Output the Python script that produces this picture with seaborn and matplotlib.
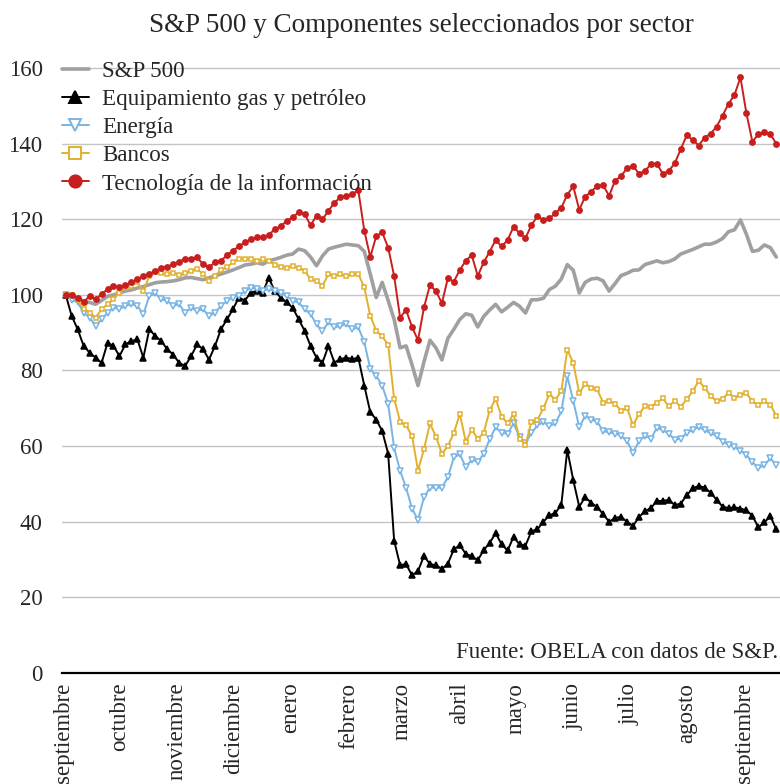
import numpy as np
import pandas as pd
import seaborn as sns
import matplotlib.pyplot as plt
from matplotlib.lines import Line2D

# eje temporal (sep 2019 - sep 2020) y etiquetas de mes
fechas = pd.date_range("2019-09-02", "2020-09-18", periods=120)
inicio_mes = pd.date_range("2019-09-01", "2020-09-01", freq="MS")
meses = ["septiembre", "octubre", "noviembre", "diciembre", "enero", "febrero",
         "marzo", "abril", "mayo", "junio", "julio", "agosto", "septiembre"]

sp500 = [100, 99.5, 99, 98.4, 98, 97.5, 98.5, 99.6, 100, 100.5,
         101, 101.3, 101.8, 102.2, 102.7, 103.2, 103.4, 103.5, 103.7, 104,
         104.5, 104.6, 104.3, 104, 104.5, 105, 105.5, 106, 106.6, 107.2,
         107.9, 108.1, 108.5, 108.1, 109, 109.4, 109.9, 110.5, 110.8, 112.1,
         111.7, 110, 107.7, 110.3, 112.1, 112.6, 113, 113.4, 113.2, 113,
         111.5, 105.5, 99.3, 103.3, 98.5, 93.5, 86, 86.5, 81.5, 76,
         82.3, 88, 86, 82.8, 88.5, 90.9, 93.5, 95, 94.6, 91.5,
         94.3, 96, 97.5, 95.5, 96.7, 98, 97, 95.2, 98.7, 98.7,
         99.1, 101.4, 102.3, 104.2, 108, 106.5, 100.5, 103.3, 104.2, 104.4,
         103.7, 101, 103, 105.1, 105.7, 106.5, 106.6, 108, 108.5, 109,
         108.5, 108.8, 109.5, 110.8, 111.4, 112, 112.7, 113.4, 113.4, 114,
         114.9, 116.7, 117.2, 119.8, 116, 111.5, 111.8, 113.2, 112.5, 110]

equipamiento = [100, 94.4, 90.9, 86.5, 84.7, 83.4, 82, 87.3, 86.5, 83.8,
                86.9, 87.8, 88.2, 83.4, 90.9, 89.1, 87.8, 85.6, 84.2, 82,
                81.2, 83.8, 86.9, 85.6, 82.9, 86.5, 90.9, 93.5, 96.2, 99.3,
                98.5, 100.6, 101, 100.6, 104.5, 101, 99.3, 98, 96.6, 93.6,
                90.5, 86.5, 83.4, 82.1, 86.5, 82.1, 83, 83.4, 83, 83.4,
                76, 69, 67, 64, 58, 35, 28.5, 28.8, 25.8, 27,
                30.9, 28.8, 28.5, 27.5, 28.9, 32.7, 33.8, 31.5, 30.9, 29.8,
                32.5, 34.4, 37, 34, 32.4, 36, 34, 33.7, 37.5, 38,
                40, 41.7, 42.3, 44.5, 59, 51, 44, 46.5, 45, 43.9,
                42, 40, 41, 41.3, 40, 38.9, 41.2, 42.8, 43.6, 45.5,
                45.5, 45.8, 44.4, 44.8, 47, 48.8, 49.5, 49, 47.7, 45.8,
                44, 43.6, 43.8, 43.5, 43, 41.6, 38.5, 39.8, 41.5, 38]

energia = [100, 98.7, 98, 95.3, 94, 91.8, 93.5, 95.3, 96.6, 96.2,
           97.1, 97.5, 97.1, 94.9, 99.7, 100.4, 98.8, 98.4, 97.1, 97.5,
           95.3, 96.6, 95.7, 96.2, 94.4, 95.3, 97.1, 98.4, 99.3, 99.7,
           101, 101.9, 101.5, 101.1, 101.5, 101.1, 100.6, 99.7, 98.4, 98,
           96.2, 94.9, 92.2, 90.5, 92.7, 91.4, 91.8, 92.2, 90.9, 91.4,
           87.5, 80.5, 78.6, 76, 71.2, 59.5, 53.5, 49, 43.5, 40.5,
           46.5, 49, 49, 49, 51.8, 57, 57.8, 54.5, 56.4, 55.8,
           58, 61.8, 65, 63.5, 63.3, 66, 62.5, 60.8, 63.5, 65.5,
           66.3, 65.3, 66, 69.2, 78.5, 72, 65, 68, 67, 66.5,
           64, 63.6, 63.3, 62.8, 61.3, 58.3, 61.3, 62.7, 62, 64.8,
           64.2, 63.3, 61.7, 62, 63.5, 64.2, 65.1, 64.2, 63.4, 62.7,
           61.2, 60.4, 59.8, 58.8, 57.7, 55.8, 54.2, 54.9, 56.8, 55]

bancos = [100, 100, 98.7, 96.2, 95.3, 94, 96.2, 97.5, 98.8, 100.6,
          102, 102.4, 103.3, 101, 105, 106.1, 105.7, 105.5, 105.9, 105.2,
          105.7, 106.4, 106.8, 105.5, 103.7, 105, 106.6, 107.3, 108.6, 109.6,
          109.6, 109.6, 109, 109.4, 109, 108, 107.4, 107.2, 107.6, 107.2,
          106.4, 104.1, 103.7, 102.4, 105.5, 105, 105.5, 105, 105.5, 105.5,
          102, 94.5, 90.5, 89, 86.8, 72.5, 66.5, 65.5, 62.7, 53.5,
          59.2, 66, 62.5, 58, 60, 63.5, 68.5, 61.2, 64.3, 62,
          63.5, 69.5, 72.5, 67.8, 66, 68.5, 62, 60.3, 66.5, 67,
          70, 73.8, 72.3, 74.5, 85.5, 82, 74, 76.5, 75.5, 75,
          71.5, 72, 71.2, 69.4, 70.2, 65.5, 68.5, 70.5, 70.4, 71.5,
          72.6, 70.5, 72, 70.4, 72.4, 74.5, 77.2, 75.5, 73.3, 71.9,
          72.5, 74.1, 72.8, 73.6, 74, 71.8, 70.9, 71.8, 71, 68]

tecnologia = [100, 100, 99.3, 98.1, 99.7, 98.8, 100.2, 101.5, 102.4, 102,
              102.6, 103.3, 104.2, 104.9, 105.5, 106.4, 107, 107.5, 108.1, 108.8,
              109.5, 109.6, 109.9, 108.1, 107.3, 108.6, 109, 110.5, 111.7, 112.8,
              113.9, 114.7, 115.2, 115.4, 115.8, 117.4, 118.1, 119.6, 120.5, 121.8,
              121.4, 118.4, 120.9, 120, 122.2, 124.4, 125.8, 126.2, 126.7, 127.6,
              117, 110, 115.5, 116.5, 112.5, 105, 94, 96, 91.5, 88,
              96.7, 102.6, 101, 97.8, 104.4, 103.5, 106.6, 109, 110.5, 105,
              108.6, 111.4, 114.5, 112.8, 114.5, 118, 116.3, 115, 118.5, 120.8,
              119.8, 120.2, 121.6, 123, 126.5, 128.7, 122.5, 126, 127.3, 128.8,
              129, 126.2, 130.2, 131.4, 133.5, 134.2, 132, 132.8, 134.5, 134.7,
              132, 132.8, 134.8, 138.5, 142.2, 141, 139.5, 141.6, 142.6, 144.5,
              147.4, 150.5, 152.9, 157.5, 148, 140.5, 142.5, 143, 142.5, 140]

sns.set_style("white")
plt.rcParams['font.family'] = ['Liberation Serif', 'DejaVu Serif']

fig = plt.figure(figsize=(7.8, 7.84), dpi=100)
ax = fig.add_axes([0.0795, 0.1416, 0.9205, 0.7794])

# (serie, etiqueta, color, marcador, relleno, grosor, tamaño)
series = [
    (sp500, "S&P 500", "#a0a0a0", None, None, 2.6, 0),
    (equipamiento, "Equipamiento gas y petróleo", "black", "^", "black", 1.4, 3.8),
    (energia, "Energía", "#78b4e4", "v", "white", 1.4, 4.2),
    (bancos, "Bancos", "#e2b02e", "s", "white", 1.4, 3.4),
    (tecnologia, "Tecnología de la información", "#c81e1e", "o", "#c81e1e", 1.4, 3.8),
]

handles = []
for vals, lab, col, mk, fc, lw, ms in series:
    if mk is None:
        sns.lineplot(x=fechas, y=vals, ax=ax, color=col, lw=lw)
        handles.append(Line2D([], [], color=col, lw=lw))
    else:
        sns.lineplot(x=fechas, y=vals, ax=ax, color=col, lw=lw, marker=mk,
                     markersize=ms, markerfacecolor=fc, markeredgecolor=col,
                     markeredgewidth=1.1)
        handles.append(Line2D([], [], color=col, lw=lw, marker=mk, markersize=ms + 5,
                              markerfacecolor=fc, markeredgecolor=col, markeredgewidth=1.4))

ax.set_ylim(0, 161.6)
ax.set_xlim(pd.Timestamp("2019-08-31"), pd.Timestamp("2020-09-20"))
ax.set_yticks(range(0, 161, 20))
ax.yaxis.grid(True, color="#c4c4c4", lw=1)
ax.xaxis.grid(False)
for s in ["left", "right", "top"]:
    ax.spines[s].set_visible(False)
ax.spines["bottom"].set_color("black")
ax.spines["bottom"].set_linewidth(1.6)
ax.spines["bottom"].set_zorder(5)

ax.set_xticks(inicio_mes)
ax.set_xticklabels(meses, rotation=90, va="top", ha="center")
ax.tick_params(axis="x", length=0, pad=7, labelsize=16.5)
ax.tick_params(axis="y", length=0, pad=14, labelsize=16.5)
ax.set_xlabel("")
ax.set_ylabel("")

leg = ax.legend(handles, [s[1] for s in series], loc="upper left",
                bbox_to_anchor=(0.0795, 0.922), bbox_transform=fig.transFigure,
                frameon=False, fontsize=16.6, borderpad=0, borderaxespad=0,
                handlelength=1.15, handletextpad=0.6, labelspacing=0.3)

fig.text(0.54, 1 - 26 / 784, "S&P 500 y Componentes seleccionados por sector",
         ha="center", va="center", fontsize=19.5)
fig.text(0.998, 1 - 652 / 784, "Fuente: OBELA con datos de S&P.",
         ha="right", va="center", fontsize=16.5)

fig.savefig("out.png", dpi=100)
